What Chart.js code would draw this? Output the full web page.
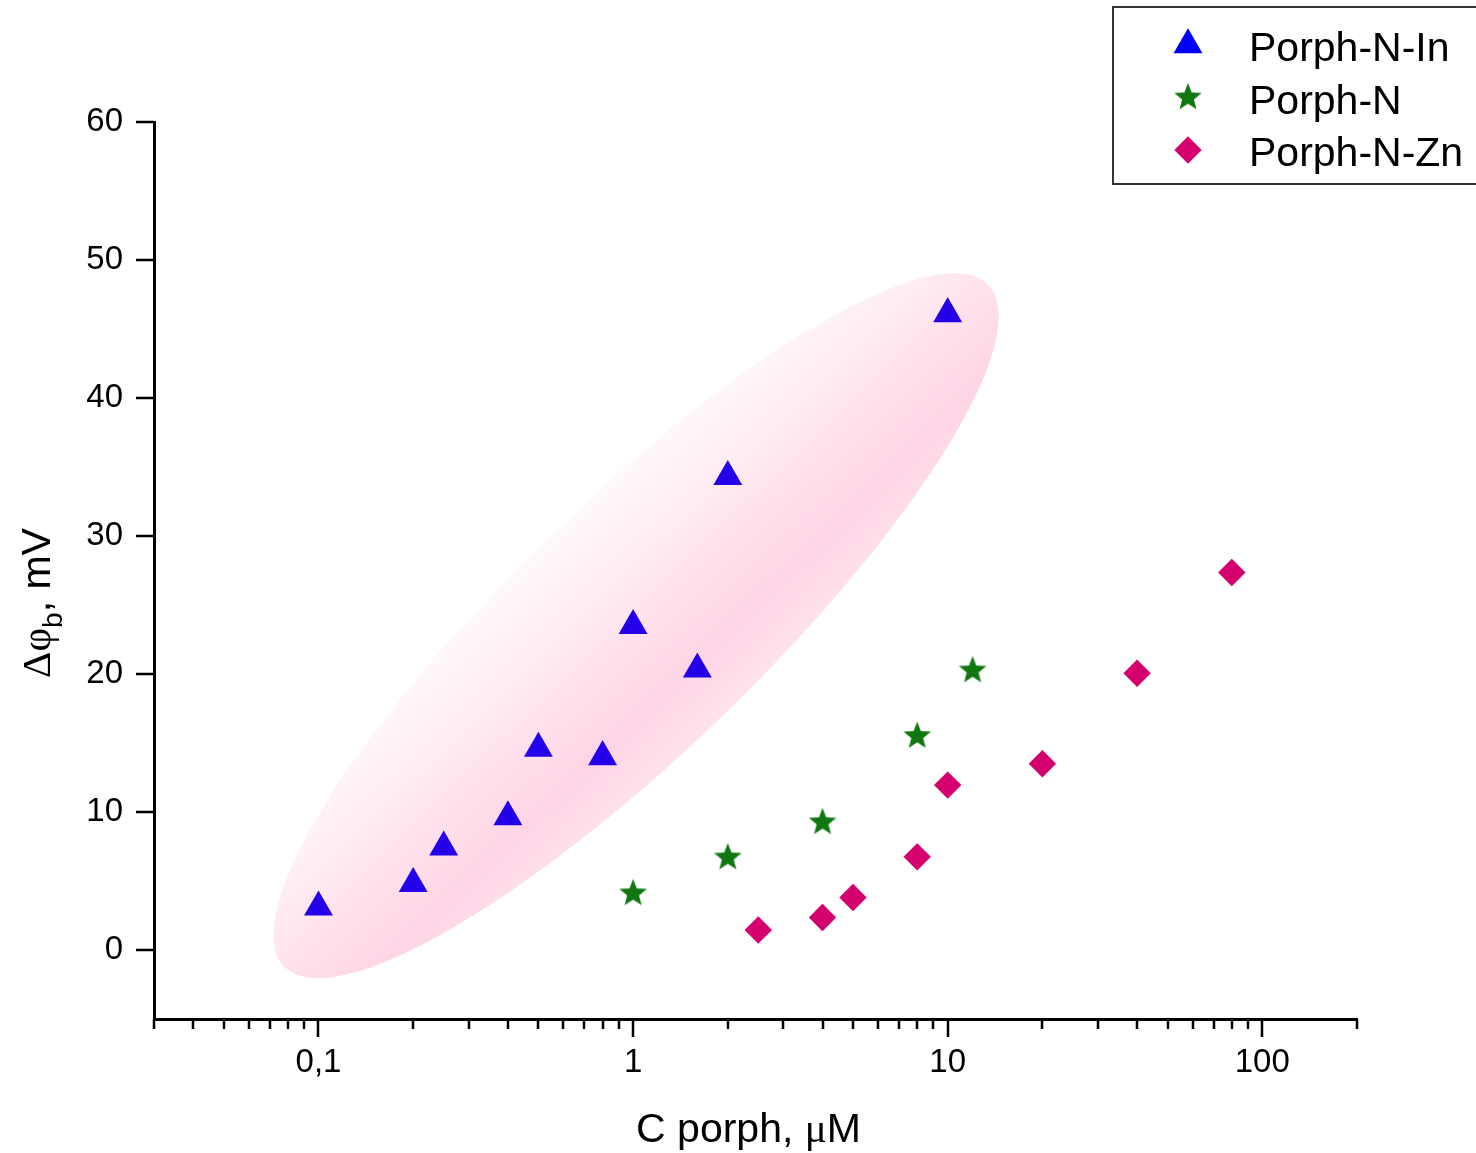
<!DOCTYPE html>
<html>
<head>
<meta charset="utf-8">
<script src="https://cdn.jsdelivr.net/npm/chart.js@4.4.1/dist/chart.umd.min.js"></script>
<style>
  body { margin: 0; background: #fff; }
  canvas { display: block; }
</style>
</head>
<body>
<canvas id="myChart" width="1476" height="1153"></canvas>
<script>
// values
const inX = [0.1, 0.2, 0.25, 0.4, 0.5, 0.8, 1, 1.6, 2, 10]
const inY = [3.1, 4.8, 7.45, 9.65, 14.6, 14.0, 23.5, 20.35, 34.3, 46.1]

const nX = [1, 2, 4, 8, 12]
const nY = [4.1, 6.7, 9.25, 15.5, 20.25]

const znX = [2.5, 4, 5, 8, 10, 20, 40, 80]
const znY = [1.45, 2.35, 3.8, 6.75, 11.95, 13.5, 20.05, 27.35]

const seriesNames = ["Porph-N-In", "Porph-N", "Porph-N-Zn"]

const xTickValues = [0.03, 0.04, 0.05, 0.06, 0.07, 0.08, 0.09, 0.1, 0.2, 0.3, 0.4, 0.5, 0.6, 0.7, 0.8, 0.9,
  1, 2, 3, 4, 5, 6, 7, 8, 9, 10, 20, 30, 40, 50, 60, 70, 80, 90, 100, 200]
const xMajor = [0.1, 1, 10, 100]
const xLabels = ["0,1", "1", "10", "100"]
const yTickValues = [0, 10, 20, 30, 40, 50, 60]

// highlighted region, ends of its long axis in data units
const ellipseEnds = [[0.0777, -1.2], [13.45, 48.2]]
const ellipseRatio = 0.255

const ctx = document.getElementById("myChart").getContext("2d")

function makeStar(outer, inner, color) {
  const c = document.createElement("canvas")
  c.width = 30
  c.height = 30
  const g = c.getContext("2d")
  g.fillStyle = color
  g.beginPath()
  for (let i = 0; i < 10; i++) {
    const r = i % 2 ? inner : outer
    const a = -Math.PI / 2 + i * Math.PI / 5
    g.lineTo(15 + r * Math.cos(a), 15 + r * Math.sin(a))
  }
  g.closePath()
  g.fill()
  return c
}

const starImg = makeStar(14.5, 6.2, "#117711")

function toPoints(xs, ys) {
  return xs.map((x, i) => ({ x: x, y: ys[i] }))
}

const ellipsePlugin = {
  id: "ellipse",
  beforeDatasetsDraw(chart) {
    const xs = chart.scales.x, ys = chart.scales.y
    const x1 = xs.getPixelForValue(ellipseEnds[0][0]), y1 = ys.getPixelForValue(ellipseEnds[0][1])
    const x2 = xs.getPixelForValue(ellipseEnds[1][0]), y2 = ys.getPixelForValue(ellipseEnds[1][1])
    const cx = (x1 + x2) / 2, cy = (y1 + y2) / 2
    const a = Math.hypot(x2 - x1, y2 - y1) / 2
    const b = a * ellipseRatio
    const ang = Math.atan2(y2 - y1, x2 - x1)
    const c = chart.ctx
    c.save()
    c.translate(cx, cy)
    c.rotate(ang)
    const grad = c.createLinearGradient(0, -b, 0, b)
    grad.addColorStop(0, "#fffafc")
    grad.addColorStop(0.77, "#ffd5e6")
    grad.addColorStop(1, "#ffe2ee")
    c.fillStyle = grad
    c.beginPath()
    c.ellipse(0, 0, a, b, 0, 0, Math.PI * 2)
    c.fill()
    c.restore()
  }
}

function drawMarker(c, style, color, x, y) {
  c.save()
  if (style === "star") {
    c.drawImage(starImg, x - 15, y - 15)
  } else {
    c.fillStyle = color
    c.beginPath()
    if (style === "triangle") {
      const r = 16.7
      c.moveTo(x, y - r)
      c.lineTo(x + r * Math.sin(Math.PI * 2 / 3), y + r / 2)
      c.lineTo(x - r * Math.sin(Math.PI * 2 / 3), y + r / 2)
    } else {
      const r = 13.7
      c.moveTo(x, y - r)
      c.lineTo(x + r, y)
      c.lineTo(x, y + r)
      c.lineTo(x - r, y)
    }
    c.closePath()
    c.fill()
  }
  c.restore()
}

const axesPlugin = {
  id: "axesExtra",
  afterDraw(chart) {
    const c = chart.ctx
    const xs = chart.scales.x, ys = chart.scales.y
    const area = chart.chartArea
    c.save()
    c.strokeStyle = "#000"
    c.lineWidth = 2.5
    c.beginPath()
    xTickValues.forEach(v => {
      const px = Math.round(xs.getPixelForValue(v))
      const len = xMajor.includes(v) ? 18 : 10
      c.moveTo(px, area.bottom)
      c.lineTo(px, area.bottom + len)
    })
    yTickValues.forEach(v => {
      const py = Math.round(ys.getPixelForValue(v))
      c.moveTo(area.left, py)
      c.lineTo(area.left - 18, py)
    })
    c.stroke()

    // x title
    c.fillStyle = "#000"
    c.textBaseline = "alphabetic"
    const sans = "41px 'Liberation Sans', Arial, sans-serif"
    const serif = "41px 'Liberation Serif', 'Times New Roman', serif"
    const xParts = [["C porph, ", sans], ["\u03BC", serif], ["M", sans]]
    let total = 0
    xParts.forEach(p => { c.font = p[1]; total += c.measureText(p[0]).width })
    let tx = (area.left + area.right) / 2 - 7 - total / 2
    xParts.forEach(p => { c.font = p[1]; c.fillText(p[0], tx, 1142); tx += c.measureText(p[0]).width })

    // y title
    const yParts = [["\u0394\u03C6", serif, 0], ["b", "28px 'Liberation Sans', Arial, sans-serif", 12], [", mV", sans, 0]]
    total = 0
    yParts.forEach(p => { c.font = p[1]; total += c.measureText(p[0]).width })
    c.translate(38, 603)
    c.rotate(-Math.PI / 2)
    tx = -total / 2
    yParts.forEach(p => { c.font = p[1]; c.fillText(p[0], tx, 12 + p[2]); tx += c.measureText(p[0]).width })
    c.restore()

    // legend box
    c.save()
    c.fillStyle = "#fff"
    c.fillRect(1113, 7, 370, 177)
    c.strokeStyle = "#333"
    c.lineWidth = 2
    c.strokeRect(1113, 7, 370, 177)
    c.font = "41px 'Liberation Sans', Arial, sans-serif"
    c.fillStyle = "#000"
    c.textBaseline = "alphabetic"
    chart.data.datasets.forEach((ds, i) => {
      const rowY = 45 + i * 52.5
      drawMarker(c, ds.legendStyle, ds.legendColor, 1188, rowY)
      c.fillStyle = "#000"
      c.fillText(ds.label, 1249, rowY + 16)
    })
    c.restore()
  }
}

new Chart(ctx, {
  type: "scatter",
  data: {
    datasets: [
      {
        label: seriesNames[0],
        data: toPoints(inX, inY),
        pointStyle: "triangle",
        pointRadius: 16.7,
        backgroundColor: "#2400ea",
        borderWidth: 0,
        legendStyle: "triangle",
        legendColor: "#0000ff"
      },
      {
        label: seriesNames[1],
        data: toPoints(nX, nY),
        pointStyle: starImg,
        pointRadius: 15,
        backgroundColor: "#117711",
        borderWidth: 0,
        legendStyle: "star",
        legendColor: "#117711"
      },
      {
        label: seriesNames[2],
        data: toPoints(znX, znY),
        pointStyle: "rectRot",
        pointRadius: 13.7,
        backgroundColor: "#d4006e",
        borderWidth: 0,
        legendStyle: "diamond",
        legendColor: "#d4006e"
      }
    ]
  },
  options: {
    responsive: false,
    maintainAspectRatio: false,
    animation: false,
    events: [],
    layout: { padding: { top: 122, right: 119, left: 0, bottom: 0 } },
    plugins: {
      legend: { display: false },
      tooltip: { enabled: false }
    },
    scales: {
      x: {
        type: "logarithmic",
        min: 0.03,
        max: 200,
        afterFit: s => { s.height = 134 },
        afterBuildTicks: s => { s.ticks = xTickValues.map(v => ({ value: v })) },
        grid: { display: false, drawTicks: false },
        border: { display: true, color: "#000", width: 3 },
        ticks: {
          autoSkip: false,
          maxRotation: 0,
          padding: 24,
          color: "#000",
          font: { family: "'Liberation Sans', Arial, sans-serif", size: 33 },
          callback: v => {
            const i = xMajor.indexOf(v)
            return i >= 0 ? xLabels[i] : ""
          }
        }
      },
      y: {
        min: -5,
        max: 60,
        afterFit: s => { s.width = 154 },
        afterBuildTicks: s => { s.ticks = yTickValues.map(v => ({ value: v })) },
        grid: { display: false, drawTicks: false },
        border: { display: true, color: "#000", width: 3 },
        ticks: {
          padding: 31,
          color: "#000",
          font: { family: "'Liberation Sans', Arial, sans-serif", size: 33 }
        }
      }
    }
  },
  plugins: [ellipsePlugin, axesPlugin]
})
</script>
</body>
</html>
